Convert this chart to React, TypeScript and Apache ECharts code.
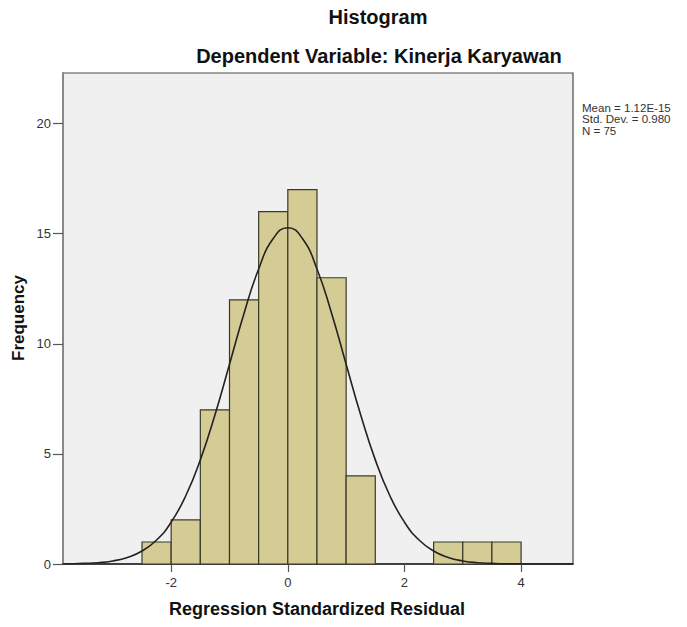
import React, { useEffect, useRef } from "react";
import * as echarts from "echarts";

const binStart = [-2.5, -2, -1.5, -1, -0.5, 0, 0.5, 1, 1.5, 2, 2.5, 3, 3.5];
const binEnd = [-2, -1.5, -1, -0.5, 0, 0.5, 1, 1.5, 2, 2.5, 3, 3.5, 4];
const frequency = [1, 2, 7, 12, 16, 17, 13, 4, 0, 0, 1, 1, 1];

const curveX = [
  -3.85, -3.75, -3.5, -3.25, -3, -2.75, -2.5, -2.25, -2, -1.75, -1.5, -1.25, -1, -0.75, -0.5, -0.25,
  0, 0.25, 0.5, 0.75, 1, 1.25, 1.5, 1.75, 2, 2.25, 2.5, 2.75, 3, 3.25, 3.5, 3.75, 4, 4.25, 4.5, 4.75, 4.89,
];
const curveY = [
  0.01, 0.01, 0.03, 0.06, 0.14, 0.3, 0.59, 1.09, 1.9, 3.1, 4.73, 6.77, 9.07, 11.39, 13.4, 14.78,
  15.27, 14.78, 13.4, 11.39, 9.07, 6.77, 4.73, 3.1, 1.9, 1.09, 0.59, 0.3, 0.14, 0.06, 0.03, 0.01, 0.004, 0.001, 0, 0, 0,
];

const xTicks = [-2, 0, 2, 4];
const yTicks = [0, 5, 10, 15, 20];

const titleText = "Histogram";
const subtitleText = "Dependent Variable: Kinerja Karyawan";
const statsLines = ["Mean = 1.12E-15", "Std. Dev. = 0.980", "N = 75"];
const xName = "Regression Standardized Residual";
const yName = "Frequency";

export default function App() {
  const ref = useRef<HTMLDivElement>(null);
  useEffect(() => {
    if (!ref.current) return;
    const chart = echarts.init(ref.current, null, { renderer: "svg" });
    const font = "Arial, 'Liberation Sans', sans-serif";
    const option: any = {
      animation: false,
      backgroundColor: "#ffffff",
      grid: {
        left: 63,
        right: 114,
        top: 73,
        bottom: 63,
        show: true,
        backgroundColor: "#f0f0f0",
        borderColor: "#4a4a4a",
        borderWidth: 1.2,
      },
      xAxis: {
        type: "value",
        min: -3.855,
        max: 4.89,
        splitLine: { show: false },
        axisLine: { show: true, onZero: false, lineStyle: { color: "#222222", width: 1.6 } },
        axisTick: { show: true, customValues: xTicks, length: 8, lineStyle: { color: "#555555", width: 1.2 } },
        axisLabel: { customValues: xTicks, color: "#333333", fontSize: 13, fontFamily: font, margin: 12 },
      },
      yAxis: {
        type: "value",
        min: 0,
        max: 22.3,
        splitLine: { show: false },
        axisLine: { show: true, onZero: false, lineStyle: { color: "#888888", width: 2 } },
        axisTick: { show: true, customValues: yTicks, length: 10, lineStyle: { color: "#555555", width: 1.2 } },
        axisLabel: { customValues: yTicks, color: "#333333", fontSize: 13, fontFamily: font, margin: 12 },
      },
      graphic: [
        {
          type: "text",
          x: 378,
          y: 17,
          style: {
            text: titleText,
            fill: "#111111",
            font: `bold 20px ${font}`,
            textAlign: "center",
            textVerticalAlign: "middle",
          },
        },
        {
          type: "text",
          x: 379,
          y: 56,
          style: {
            text: subtitleText,
            fill: "#111111",
            font: `bold 20px ${font}`,
            textAlign: "center",
            textVerticalAlign: "middle",
          },
        },
        {
          type: "text",
          x: 317,
          y: 609,
          style: {
            text: xName,
            fill: "#111111",
            font: `bold 18px ${font}`,
            textAlign: "center",
            textVerticalAlign: "middle",
          },
        },
        {
          type: "text",
          x: 18,
          y: 318,
          rotation: Math.PI / 2,
          style: {
            text: yName,
            fill: "#111111",
            font: `bold 17px ${font}`,
            textAlign: "center",
            textVerticalAlign: "middle",
          },
        },
        ...statsLines.map((t, i) => ({
          type: "text",
          x: 582,
          y: 108 + i * 11.5,
          scaleX: 1.1,
          style: { text: t, fill: "#333333", font: `10.5px ${font}`, textVerticalAlign: "middle" },
        })),
      ],
      series: [
        {
          type: "custom",
          data: frequency.map((f, i) => [binStart[i], binEnd[i], f]),
          encode: { x: [0, 1], y: 2 },
          renderItem: (params: any, api: any) => {
            const x0 = api.value(0);
            const x1 = api.value(1);
            const f = api.value(2);
            if (!f) return null;
            const p0 = api.coord([x0, f]);
            const p1 = api.coord([x1, 0]);
            return {
              type: "rect",
              shape: { x: p0[0], y: p0[1], width: p1[0] - p0[0], height: p1[1] - p0[1] },
              style: { fill: "#d4cc94", stroke: "#3a3a2a", lineWidth: 1.2 },
            };
          },
          z: 2,
        },
        {
          type: "line",
          data: curveX.map((x, i) => [x, curveY[i]]),
          smooth: true,
          showSymbol: false,
          lineStyle: { color: "#222222", width: 1.6 },
          z: 3,
        },
      ],
    };
    chart.setOption(option);
    return () => chart.dispose();
  }, []);
  return <div ref={ref} style={{ position: "absolute", left: 0, top: 0, width: 687, height: 627 }} />;
}
